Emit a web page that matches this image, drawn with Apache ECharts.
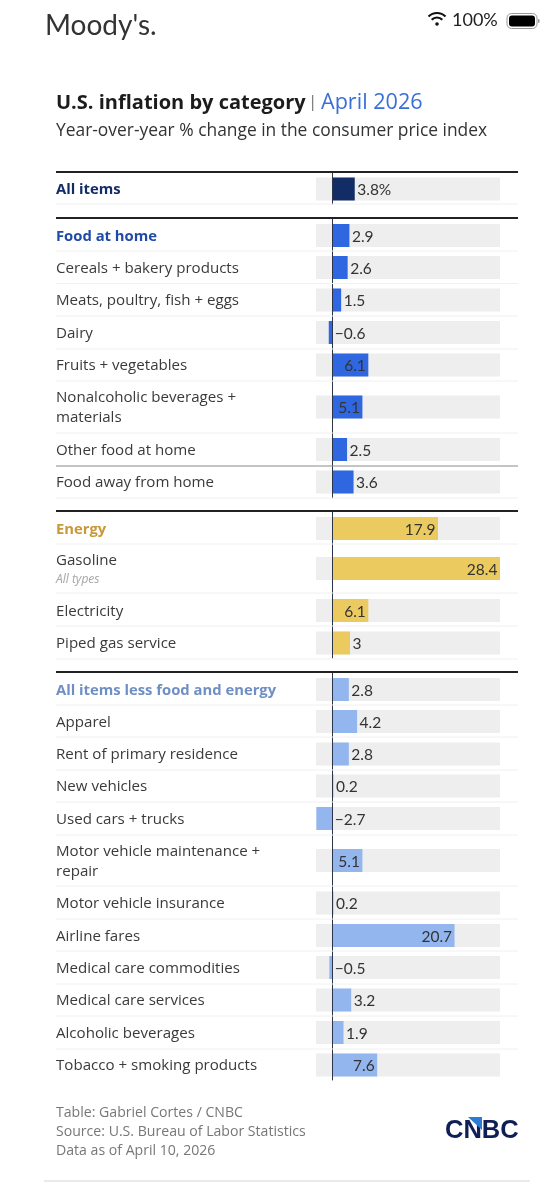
<!DOCTYPE html>
<html><head><meta charset="utf-8">
<style>html,body{margin:0;padding:0;background:#fff}#c{width:558px;height:1200px}</style>
<script src="https://cdn.jsdelivr.net/npm/echarts@6/dist/echarts.min.js"></script>
</head><body><div id="c"></div>
<script>
const categories = ["All items","Food at home","Cereals + bakery products","Meats, poultry, fish + eggs","Dairy","Fruits + vegetables","Nonalcoholic beverages +\nmaterials","Other food at home","Food away from home","Energy","Gasoline","Electricity","Piped gas service","All items less food and energy","Apparel","Rent of primary residence","New vehicles","Used cars + trucks","Motor vehicle maintenance +\nrepair","Motor vehicle insurance","Airline fares","Medical care commodities","Medical care services","Alcoholic beverages","Tobacco + smoking products"];
const values = [3.8,2.9,2.6,1.5,-0.6,6.1,5.1,2.5,3.6,17.9,28.4,6.1,3,2.8,4.2,2.8,0.2,-2.7,5.1,0.2,20.7,-0.5,3.2,1.9,7.6];
const groups = [0,1,1,1,1,1,1,1,1,2,2,2,2,3,3,3,3,3,3,3,3,3,3,3,3];
const headers = [0,1,9,13];
const subLabels = {10:"All types"};

// layout only
const rowCenters = [189,235.5,267.5,300,332.5,365,407,449.5,482,528.5,568.5,610.5,643,689.5,721.5,754,786,818.5,860.5,903,935.5,967.5,1000,1032.5,1065];
const groupSpans = [[172,204],[218,498],[511,658],[672,1080]];
const heavyLines = [172,218,511,672];
const midLines = [466];
const lightLines = [204,251,283.5,316,349,381,433,498,544,593,626,659,705,737,770,802,835,886,919,951,984,1016,1049];
const barColors = ["#122C66","#2E67DF","#EBCB5F","#94B6EE"];
const headColors = ["#122C66","#1F4AA8","#C8983A","#6F8FC4"];
const FONT = "Open Sans";
const VALFONT = "Lato";
const TRACK_L = 316, TRACK_W = 184, X_MIN = -2.76, X_MAX = 28.4, BAR_H = 23;

const fmt = (v,i) => (v<0 ? "\u2212"+Math.abs(v) : String(v)) + (i===0?"%":"");

const grid=[], xAxis=[], yAxis=[], series=[];
values.forEach((v,i)=>{
  const isHead = headers.includes(i);
  grid.push({left:TRACK_L,width:TRACK_W,top:rowCenters[i]-BAR_H/2,height:BAR_H});
  xAxis.push({type:"value",gridIndex:i,min:X_MIN,max:X_MAX,show:false});
  const sub = subLabels[i];
  yAxis.push({type:"category",gridIndex:i,data:[sub?categories[i]+"\n{s|"+sub+"}":categories[i]],
    axisLine:{show:false},axisTick:{show:false},splitLine:{show:false},
    axisLabel:{interval:0,align:"left",margin:TRACK_L-56,fontFamily:FONT,fontSize:isHead?14.8:15.1,lineHeight:20,
      padding:[2,0,0,0],
      color:isHead?headColors[groups[i]]:"#3a3a3a",fontWeight:isHead?"bold":"normal",
      rich:{s:{fontSize:12,fontStyle:"italic",color:"#a5a5a5",fontFamily:FONT,lineHeight:18}}}});
  series.push({type:"bar",xAxisIndex:i,yAxisIndex:i,barWidth:"100%",data:[v],silent:true,
    showBackground:true,backgroundStyle:{color:"#EEEEEE"},
    itemStyle:{color:barColors[groups[i]]},
    label:{show:true,position:v>=5?"insideRight":"right",distance:2.5,offset:[0,1],fontFamily:VALFONT,fontSize:15.5,
      color:"#333",formatter:()=>fmt(v,i)}});
});
// zero baseline per section, on the same x scale
groupSpans.forEach(s=>{
  const k=grid.length;
  grid.push({left:TRACK_L,width:TRACK_W,top:s[0],height:s[1]-s[0]});
  xAxis.push({type:"value",gridIndex:k,min:X_MIN,max:X_MAX,show:false});
  yAxis.push({type:"category",gridIndex:k,data:[""],z:10,
    axisLine:{show:true,onZero:true,lineStyle:{color:"#2B3448",width:1}},
    axisTick:{show:false},axisLabel:{show:false},splitLine:{show:false}});
});

const line=(y,c,w)=>({type:"line",z:20,shape:{x1:56,y1:y,x2:518,y2:y},style:{stroke:c,lineWidth:w}});
const txt=(x,y,t,o)=>({type:"text",z:20,x,y,style:Object.assign({text:t,fontFamily:FONT,textVerticalAlign:"middle",textBaseline:"middle"},o)});

const graphic=[
  ...lightLines.map(y=>line(y,"#F0F0F0",1)),
  ...midLines.map(y=>line(y,"#8A8A8A",1)),
  ...heavyLines.map(y=>line(y,"#222",2)),
  txt(45,26,"Moody's.",{fontSize:28,fill:"#333",fontFamily:"Lato"}),
  txt(452,20,"100%",{fontSize:18,fill:"#222",fontFamily:"Lato"}),
  // wifi
  {type:"arc",z:20,shape:{cx:437,cy:25,r:12,startAngle:-Math.PI*0.75,endAngle:-Math.PI*0.25},style:{stroke:"#111",lineWidth:2.2,fill:null}},
  {type:"arc",z:20,shape:{cx:437,cy:25,r:7.5,startAngle:-Math.PI*0.75,endAngle:-Math.PI*0.25},style:{stroke:"#111",lineWidth:2.2,fill:null}},
  {type:"circle",z:20,shape:{cx:437,cy:24,r:1.8},style:{fill:"#111"}},
  // battery
  {type:"rect",z:20,shape:{x:507,y:13.5,width:30,height:15,r:4.5},style:{fill:"#fff",stroke:"#999",lineWidth:1}},
  {type:"rect",z:20,shape:{x:509,y:15.5,width:26,height:11,r:3},style:{fill:"#000"}},
  {type:"rect",z:20,shape:{x:538,y:19,width:1.5,height:4,r:1},style:{fill:"#999"}},
  txt(56,103,"U.S. inflation by category",{fontSize:20,fontWeight:"bold",fill:"#1c1c1c"}),
  txt(308,102,"|",{fontSize:17,fill:"#777"}),
  txt(321,103,"April 2026",{fontSize:21.6,fill:"#3A6FD8"}),
  txt(56,131,"Year-over-year % change in the consumer price index",{fontSize:17.4,fill:"#333"}),
  txt(56,1113,"Table: Gabriel Cortes / CNBC",{fontSize:14.1,fill:"#777"}),
  txt(56,1132,"Source: U.S. Bureau of Labor Statistics",{fontSize:14.1,fill:"#777"}),
  txt(56,1151,"Data as of April 10, 2026",{fontSize:14.1,fill:"#777"}),
  txt(445,1131,"CNBC",{fontSize:25.5,fontWeight:900,fill:"#0F1F56",fontFamily:"Liberation Sans"}),
  {type:"polygon",z:21,shape:{points:[[468,1117],[482,1117],[482,1130]]},style:{fill:"#2E7BD6"}},
  {type:"line",z:20,shape:{x1:44,y1:1181,x2:530,y2:1181},style:{stroke:"#D5D5D5",lineWidth:1}}
];

const chart=echarts.init(document.getElementById("c"),null,{renderer:"canvas"});
chart.setOption({animation:false,backgroundColor:"#fff",grid,xAxis,yAxis,series,graphic:{elements:graphic}});
</script></body></html>
